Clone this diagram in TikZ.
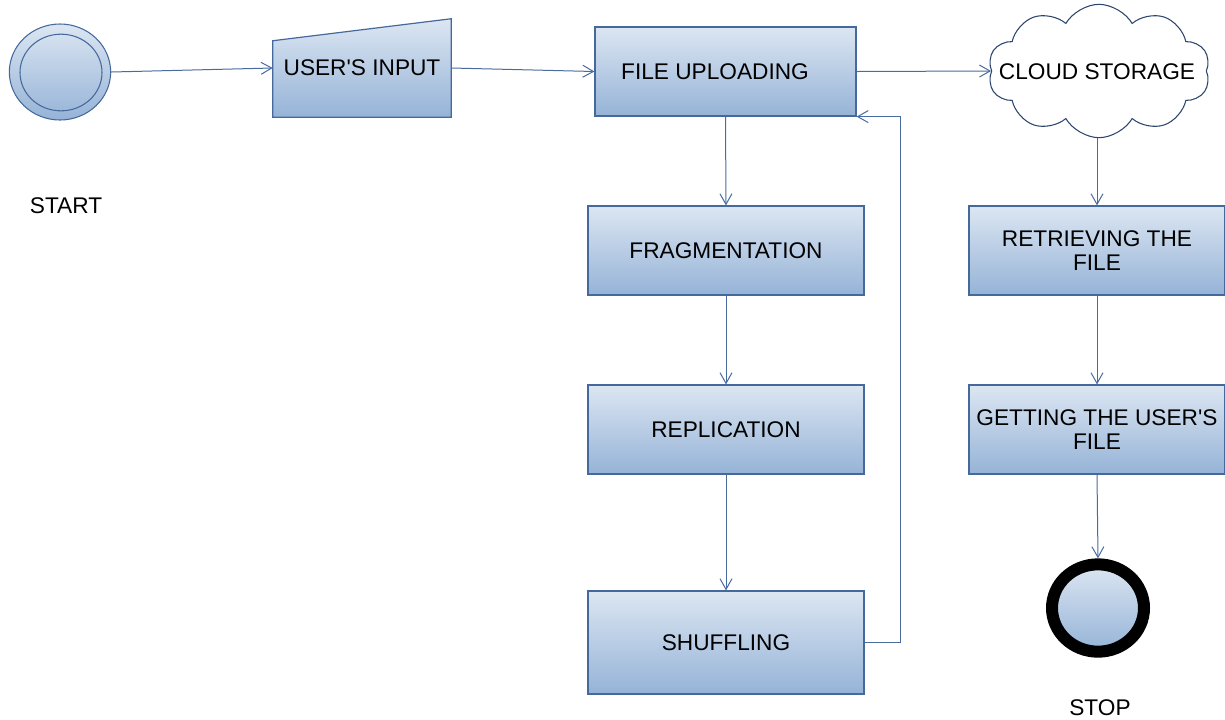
\documentclass[tikz,border=0pt]{standalone}
\usepackage{fontspec}
\setmainfont{Liberation Sans}
\usetikzlibrary{arrows.meta,shapes.geometric,shapes.symbols,backgrounds}
\definecolor{edge}{RGB}{70,105,155}
\definecolor{lineblue}{RGB}{72,108,160}
\definecolor{cloudedge}{RGB}{45,70,110}
\definecolor{boxtop}{RGB}{220,230,242}
\definecolor{boxbot}{RGB}{149,179,215}
\tikzset{
  x=0.75pt, y=-0.75pt,
  every node/.style={font=\fontsize{17}{18}\selectfont, text=black},
  procbox/.style={rectangle, draw=edge, line width=0.9pt, top color=boxtop, bottom color=boxbot, align=center, inner sep=0pt},
  arr/.style={draw=lineblue, line width=0.75pt, -{Straight Barb[length=8pt,width=9pt]}},
}
\begin{document}
\begin{tikzpicture}
\useasboundingbox (0,0) rectangle (1225,719);

% start state
\node[ellipse, draw=edge, line width=0.8pt, top color=boxtop, bottom color=boxbot,
      minimum width=76pt, minimum height=72pt, inner sep=0pt] (start) at (60,72) {};
\node[ellipse, draw=edge, line width=0.8pt, minimum width=61.5pt, minimum height=57.5pt, inner sep=0pt] (startin) at (61,72.5) {};
\node (starttxt) at (66,206) {START};

% manual input (trapezoid drawn behind the label)
\node[rectangle, minimum width=133.5pt, minimum height=73.5pt, inner sep=0pt] (user) at (362,68) {USER\textquotesingle S INPUT};
\begin{pgfonlayer}{background}
\path[draw=edge, line width=0.9pt, top color=boxtop, bottom color=boxbot]
  (user.south west) -- (user.south east) -- (user.north east) -- ([yshift=-16.5pt]user.north west) -- cycle;
\end{pgfonlayer}

% process boxes
\node[procbox, minimum width=195.75pt, minimum height=66.75pt] (file) at (725.5,71.5) {};
\node (filetxt) at (715,72) {FILE UPLOADING};
\node[procbox, minimum width=207pt, minimum height=66.75pt] (frag) at (726,250.5) {FRAGMENTATION};
\node[procbox, minimum width=207pt, minimum height=66.75pt] (repl) at (726,429.5) {REPLICATION};
\node[procbox, minimum width=207pt, minimum height=77.25pt] (shuf) at (726,642.5) {SHUFFLING};

% storage and retrieval
\node[cloud, cloud puffs=10, cloud puff arc=120, aspect=1.7, draw=cloudedge, line width=0.8pt, fill=white,
      minimum width=166.5pt, minimum height=100pt, inner sep=0pt] (cloud) at (1099,71) {};
\node (cloudtxt) at (1097,72) {CLOUD STORAGE};
\node[procbox, minimum width=192pt, minimum height=66.75pt] (retr) at (1097,250.5) {RETRIEVING THE\\FILE};
\node[procbox, minimum width=192pt, minimum height=66.75pt] (get) at (1097,429.5) {GETTING THE USER\textquotesingle S\\FILE};

% end state
\node[ellipse, draw=black, line width=9pt, top color=boxtop, bottom color=boxbot,
      minimum width=69pt, minimum height=65.5pt, inner sep=0pt] (stop) at (1098,608) {};
\node (stoptxt) at (1100,708) {STOP};

% connectors
\coordinate (loopx) at (900,0);
\draw[arr] (start.east) -- (user.west);
\draw[arr] (user.east) -- (file.west);
\draw[arr] (file.east) -- (cloud.west);
\draw[arr] (file.south) -- (frag.north);
\draw[arr] (frag.south) -- (repl.north);
\draw[arr] (repl.south) -- (shuf.north);
\draw[arr] (shuf.east) -- (shuf.east -| loopx) |- (file.south east);
\draw[arr] (cloud.south -| retr.north) -- (retr.north);
\draw[arr] (retr.south) -- (get.north);
\draw[arr] (get.south) -- (stop.north);
\end{tikzpicture}
\end{document}
